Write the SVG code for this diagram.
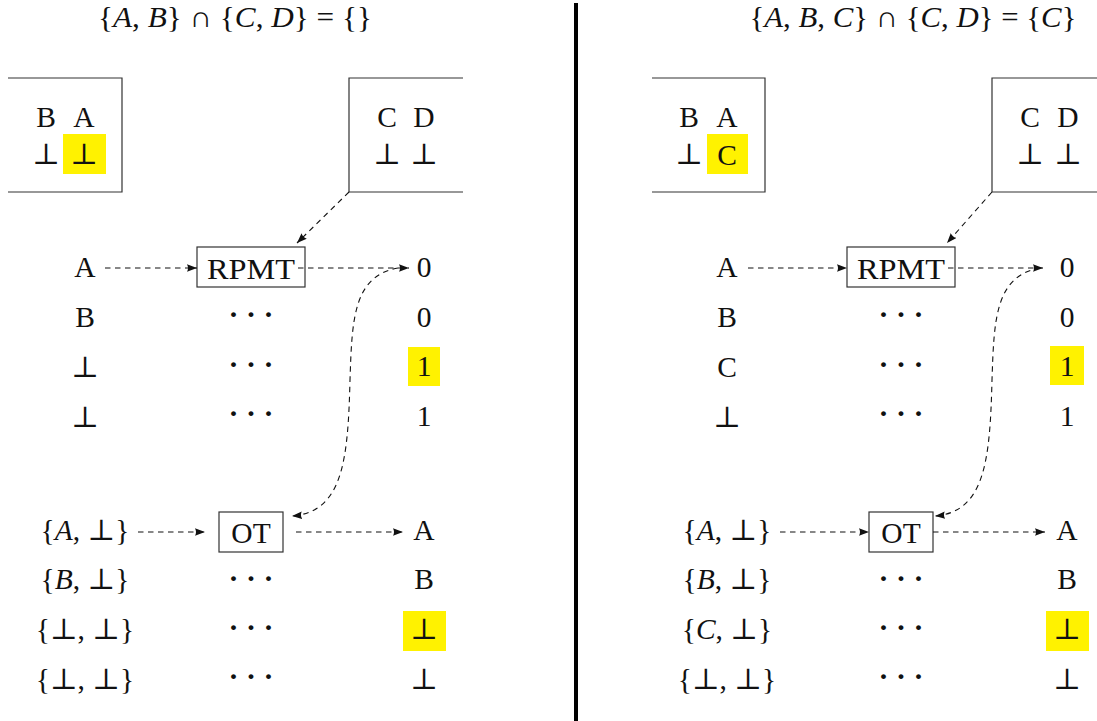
<svg xmlns="http://www.w3.org/2000/svg" width="1097" height="721" viewBox="0 0 1097 721">
<style>
text{font-family:"Liberation Serif","DejaVu Serif",serif;font-size:29.5px;fill:#111;text-anchor:middle}
.it{font-style:italic}
.dots{font-size:30px;font-weight:bold}
.frame{fill:none;stroke:#333;stroke-width:1.2}
.box{fill:#fff;stroke:#333;stroke-width:1.2}
.hl{fill:#fff200}
.dash{fill:none;stroke:#111;stroke-width:1.1;stroke-dasharray:5.5 4.5;marker-end:url(#ah)}
</style>
<defs>
<marker id="ah" markerUnits="userSpaceOnUse" markerWidth="11" markerHeight="8" refX="10" refY="3.75" orient="auto">
<path d="M0,0 L10,3.75 L0,7.5 Q2,3.75 0,0 z" fill="#111"/>
</marker>
</defs>
<rect width="1097" height="721" fill="#fff"/>
<line x1="576" y1="3" x2="576" y2="721" stroke="#000" stroke-width="4"/>

<!-- Left panel -->
<g id="left-title"><text x="235" y="27" textLength="274" lengthAdjust="spacingAndGlyphs">{<tspan class="it">A</tspan>, <tspan class="it">B</tspan>} ∩ {<tspan class="it">C</tspan>, <tspan class="it">D</tspan>} = {}</text></g>
<g id="left-ab-box">
<path class="frame" d="M8,78 H122 V192 H8"/>
<rect class="hl" x="63" y="134" width="43" height="40"/>
<text x="46" y="127">B</text><text x="84" y="127">A</text>
<text x="46" y="164">⊥</text><text x="84" y="164">⊥</text>
</g>
<g id="left-cd-box">
<path class="frame" d="M463,78 H349 V192 H463"/>
<text x="387" y="127">C</text><text x="424" y="127">D</text>
<text x="387" y="164">⊥</text><text x="424" y="164">⊥</text>
</g>
<g id="left-rpmt">
<rect class="box" x="197" y="247" width="108" height="40"/>
<text x="251" y="279" textLength="88" lengthAdjust="spacingAndGlyphs">RPMT</text>
</g>
<g id="left-ot">
<rect class="box" x="219" y="512" width="64" height="40"/>
<text x="251" y="543">OT</text>
</g>
<g id="left-rpmt-rows">
<text x="85" y="277">A</text><text x="85" y="327">B</text><text x="85" y="377">⊥</text><text x="85" y="427">⊥</text>
<text class="dots" x="251" y="324">· · ·</text><text class="dots" x="251" y="374">· · ·</text><text class="dots" x="251" y="423">· · ·</text>
<rect class="hl" x="408" y="347" width="32" height="39"/>
<text x="424" y="277">0</text><text x="424" y="327">0</text><text x="424" y="376">1</text><text x="424" y="426">1</text>
</g>
<g id="left-ot-rows">
<text x="85" y="540">{<tspan class="it">A</tspan>, ⊥}</text>
<text x="85" y="589">{<tspan class="it">B</tspan>, ⊥}</text>
<text x="85" y="639">{⊥, ⊥}</text>
<text x="85" y="689">{⊥, ⊥}</text>
<text class="dots" x="251" y="588">· · ·</text><text class="dots" x="251" y="637">· · ·</text><text class="dots" x="251" y="686">· · ·</text>
<rect class="hl" x="403" y="611" width="43" height="40"/>
<text x="424" y="540">A</text><text x="424" y="589">B</text><text x="424" y="639">⊥</text><text x="424" y="689">⊥</text>
</g>

<!-- Right panel -->
<g id="right-title"><text x="913" y="27" textLength="327" lengthAdjust="spacingAndGlyphs">{<tspan class="it">A</tspan>, <tspan class="it">B</tspan>, <tspan class="it">C</tspan>} ∩ {<tspan class="it">C</tspan>, <tspan class="it">D</tspan>} = {<tspan class="it">C</tspan>}</text></g>
<g id="right-ab-box">
<path class="frame" d="M652,78 H765 V192 H652"/>
<rect class="hl" x="707" y="134" width="41" height="40"/>
<text x="689" y="127">B</text><text x="727" y="127">A</text>
<text x="689" y="164">⊥</text><text x="727" y="165">C</text>
</g>
<g id="right-cd-box">
<path class="frame" d="M1097,78 H992 V192 H1097"/>
<text x="1030" y="127">C</text><text x="1068" y="127">D</text>
<text x="1030" y="164">⊥</text><text x="1068" y="164">⊥</text>
</g>
<g id="right-rpmt">
<rect class="box" x="847" y="247" width="108" height="40"/>
<text x="901" y="279" textLength="88" lengthAdjust="spacingAndGlyphs">RPMT</text>
</g>
<g id="right-ot">
<rect class="box" x="869" y="512" width="64" height="40"/>
<text x="901" y="543">OT</text>
</g>
<g id="right-rpmt-rows">
<text x="727" y="277">A</text><text x="727" y="327">B</text><text x="727" y="377">C</text><text x="727" y="427">⊥</text>
<text class="dots" x="901" y="324">· · ·</text><text class="dots" x="901" y="374">· · ·</text><text class="dots" x="901" y="423">· · ·</text>
<rect class="hl" x="1050" y="346" width="34" height="39"/>
<text x="1067" y="277">0</text><text x="1067" y="327">0</text><text x="1067" y="376">1</text><text x="1067" y="426">1</text>
</g>
<g id="right-ot-rows">
<text x="727" y="540">{<tspan class="it">A</tspan>, ⊥}</text>
<text x="727" y="589">{<tspan class="it">B</tspan>, ⊥}</text>
<text x="727" y="639">{<tspan class="it">C</tspan>, ⊥}</text>
<text x="727" y="689">{⊥, ⊥}</text>
<text class="dots" x="901" y="588">· · ·</text><text class="dots" x="901" y="637">· · ·</text><text class="dots" x="901" y="686">· · ·</text>
<rect class="hl" x="1046" y="611" width="43" height="40"/>
<text x="1067" y="540">A</text><text x="1067" y="589">B</text><text x="1067" y="639">⊥</text><text x="1067" y="689">⊥</text>
</g>

<g id="connectors">
<path class="dash" d="M349,192 L297,243"/>
<path class="dash" d="M105,268 H197"/>
<path class="dash" d="M298,268 H409"/>
<path class="dash" d="M138,532 H205"/>
<path class="dash" d="M296,532 H403"/>
<path class="dash" d="M398,268 C353,276 352,320 350,380 C348,460 343,512 292,516"/>
<path class="dash" d="M992,192 L947,243"/>
<path class="dash" d="M748,268 H847"/>
<path class="dash" d="M948,268 H1043"/>
<path class="dash" d="M780,532 H869"/>
<path class="dash" d="M933,532 H1045"/>
<path class="dash" d="M1040,268 C995,276 994,320 992,380 C990,460 985,512 935,516"/>
</g>
</svg>
